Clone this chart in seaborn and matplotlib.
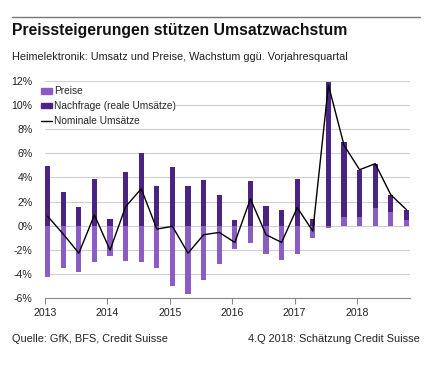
import matplotlib
matplotlib.use("Agg")
import matplotlib.pyplot as plt
import matplotlib.patches as mpatches
import matplotlib.lines as mlines
import seaborn as sns
import pandas as pd
import numpy as np

# quarters 2013Q1 .. 2018Q4
quarters = [f"{y}Q{q}" for y in range(2013, 2019) for q in range(1, 5)]
years = ["2013", "2014", "2015", "2016", "2017", "2018"]

# price growth (%), light bars
preise = [
    -4.25, -3.55, -3.83, -3.05,
    -2.53, -2.94, -3.00, -3.53,
    -4.97, -5.64, -4.50, -3.14,
    -1.97, -1.42, -2.39, -2.81,
    -2.33, -1.03, -0.20, 0.75,
    0.75, 1.50, 1.17, 0.50,
]
# real demand growth (%), dark bars
nachfrage = [
    4.94, 2.83, 1.53, 3.89,
    0.53, 4.44, 6.03, 3.25,
    4.86, 3.30, 3.75, 2.58,
    0.47, 3.67, 1.61, 1.33,
    3.83, 0.56, 11.90, 6.19,
    3.89, 3.64, 1.39, 0.83,
]
# nominal sales growth (%), line
nominal = [
    0.78, -0.70, -2.28, 0.89,
    -2.03, 1.58, 3.06, -0.28,
    -0.06, -2.28, -0.75, -0.56,
    -1.39, 2.22, -0.75, -1.39,
    1.50, -0.45, 11.67, 6.67,
    4.64, 5.14, 2.56, 1.33,
]

light = "#8a5cc4"
dark = "#4a2480"

df = pd.DataFrame({"quarter": quarters, "preise": preise,
                   "nachfrage": nachfrage, "nominal": nominal})
df["pos"] = np.arange(len(df)) + 0.17
# dark bars stacked on top of positive price growth
df["top"] = df["nachfrage"] + df["preise"].clip(lower=0)

sns.set_theme(style="white")
plt.rcParams['font.family'] = ['Liberation Sans', 'DejaVu Sans']

fig = plt.figure(figsize=(4.38, 3.67), dpi=100)
ax = fig.add_axes([45 / 438, 1 - 298 / 367, 365 / 438, 217 / 367])

sns.barplot(data=df, x="pos", y="top", native_scale=True, width=0.33,
            color=dark, saturation=1, edgecolor="none", ax=ax, zorder=2)
sns.barplot(data=df, x="pos", y="preise", native_scale=True, width=0.33,
            color=light, saturation=1, edgecolor="none", ax=ax, zorder=3)
sns.lineplot(data=df, x="pos", y="nominal", color="black", linewidth=1,
             ax=ax, zorder=4)

ax.set_xlim(0, 23.4)
ax.set_ylim(-6, 12)
ax.set_yticks(np.arange(-6, 13, 2))
ax.set_yticklabels([f"{v}%" for v in range(-6, 13, 2)], fontsize=7.6, color="#222222")
ax.set_xticks(np.arange(0, 24, 4))
ax.set_xticklabels(years, fontsize=7.6, color="#222222")
ax.set_xlabel("")
ax.set_ylabel("")

ax.grid(axis="y", color="#cfcfcf", linewidth=0.8, zorder=0)
ax.grid(axis="x", visible=False)
for s in ["left", "right", "top"]:
    ax.spines[s].set_visible(False)
ax.spines["bottom"].set_color("#888888")
ax.spines["bottom"].set_linewidth(0.8)
ax.tick_params(axis="x", which="both", bottom=True, length=4, width=0.8,
               color="#888888", pad=3)
ax.tick_params(axis="y", left=False, length=0, pad=9)

handles = [
    mpatches.Patch(color=light, label="Preise"),
    mpatches.Patch(color=dark, label="Nachfrage (reale Umsätze)"),
    mlines.Line2D([], [], color="black", linewidth=1, label="Nominale Umsätze"),
]
leg = ax.legend(handles=handles, loc="upper left", bbox_to_anchor=(-0.012, 0.978),
                frameon=True, fontsize=7.3, handlelength=1.1, handleheight=0.5,
                handletextpad=0.15, labelspacing=0.48, borderpad=0.05,
                borderaxespad=0)
leg.get_frame().set_facecolor("white")
leg.get_frame().set_edgecolor("none")
leg.get_frame().set_alpha(1)
leg.set_zorder(5)

fig.add_artist(mlines.Line2D([12 / 438, 420 / 438], [1 - 17 / 367, 1 - 17 / 367],
                             color="#777777", linewidth=1))
fig.text(12 / 438, 1 - 31 / 367, "Preissteigerungen stützen Umsatzwachstum",
         fontsize=11.3, fontweight="bold", va="center", ha="left", color="#111111")
fig.text(12 / 438, 1 - 57 / 367,
         "Heimelektronik: Umsatz und Preise, Wachstum ggü. Vorjahresquartal",
         fontsize=7.8, va="center", ha="left", color="#222222")
fig.text(12 / 438, 1 - 339 / 367, "Quelle: GfK, BFS, Credit Suisse",
         fontsize=7.9, va="center", ha="left", color="#222222")
fig.text(420 / 438, 1 - 339 / 367, "4.Q 2018: Schätzung Credit Suisse",
         fontsize=7.9, va="center", ha="right", color="#222222")

fig.savefig("out.png", dpi=100)
